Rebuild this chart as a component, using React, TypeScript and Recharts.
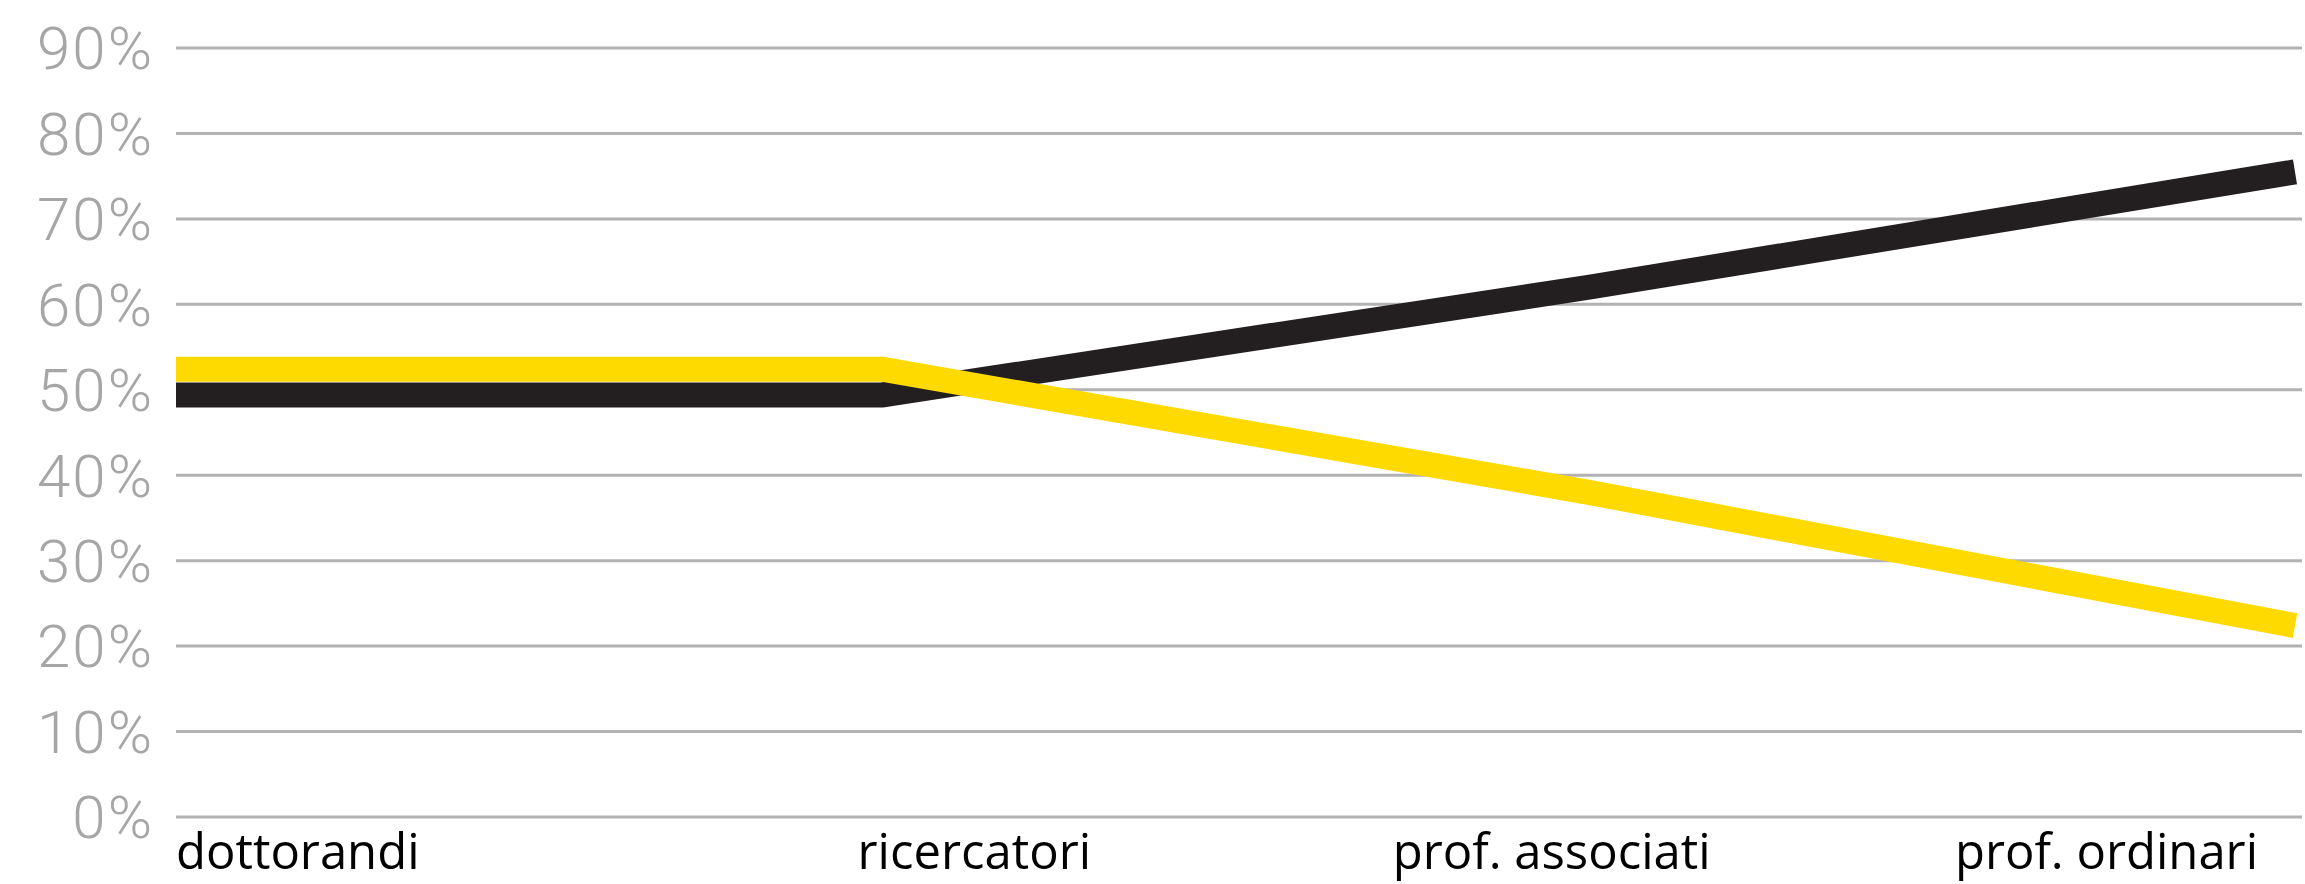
import React from 'react';
import { LineChart, Line, XAxis, YAxis, CartesianGrid } from 'recharts';

const CATEGORIES = ['dottorandi', 'ricercatori', 'prof. associati', 'prof. ordinari'];
const UOMINI = [49.4, 49.4, 62, 75.5];
const DONNE = [52.4, 52.4, 38, 22.4];
const Y_TICKS = [0, 10, 20, 30, 40, 50, 60, 70, 80, 90];

const BLACK = '#231F20';
const YELLOW = '#FFDA00';

const data = CATEGORIES.map((name, i) => ({ name, uomini: UOMINI[i], donne: DONNE[i] }));

// first label hugs the left edge, last one ends before the line does
const TICK_ANCHOR = ['start', 'middle', 'middle', 'end'];
const TICK_DX = [0, 92, -37, -37];

const CategoryTick = (props: any) => {
  const { x, y, payload } = props;
  const i = CATEGORIES.indexOf(payload.value);
  return (
    <text
      x={x + (TICK_DX[i] ?? 0)}
      y={y + 52}
      textAnchor={TICK_ANCHOR[i] ?? 'middle'}
      fill="#000"
      fontSize={49}
      fontFamily="'Open Sans', sans-serif"
    >
      {payload.value}
    </text>
  );
};

export default function App() {
  return (
    <div style={{ position: 'absolute', left: 0, top: 0, width: 2305, height: 884, background: '#fff' }}>
      <LineChart
        width={2305}
        height={884}
        data={data}
        margin={{ top: 48, right: 3, left: 0, bottom: 7 }}
      >
        <CartesianGrid horizontal vertical={false} stroke="#b2b2b4" strokeWidth={3} />
        <XAxis
          dataKey="name"
          type="category"
          height={60}
          axisLine={false}
          tickLine={false}
          tickSize={0}
          tickMargin={0}
          interval={0}
          padding={{ left: 0, right: 7 }}
          tick={<CategoryTick />}
        />
        <YAxis
          domain={[0, 90]}
          ticks={Y_TICKS}
          width={176}
          axisLine={false}
          tickLine={false}
          tickSize={0}
          tickMargin={22}
          tickFormatter={(v: number) => `${v}%`}
          tick={{ fill: '#a6a6a6', fontSize: 60, fontFamily: 'Roboto, sans-serif', fontWeight: 300, letterSpacing: 2 }}
        />
        <Line
          type="linear"
          dataKey="uomini"
          stroke={BLACK}
          strokeWidth={25}
          dot={false}
          activeDot={false}
          isAnimationActive={false}
        />
        <Line
          type="linear"
          dataKey="donne"
          stroke={YELLOW}
          strokeWidth={25}
          dot={false}
          activeDot={false}
          isAnimationActive={false}
        />
      </LineChart>
    </div>
  );
}
